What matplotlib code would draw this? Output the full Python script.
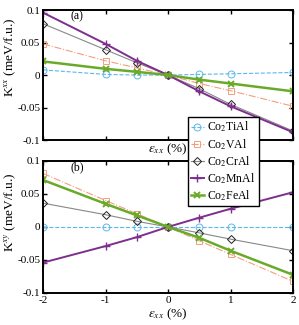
import numpy as np
import matplotlib
matplotlib.use('Agg')
import matplotlib.pyplot as plt

plt.rcParams['font.family'] = ['Liberation Serif', 'DejaVu Serif']
plt.rcParams['mathtext.fontset'] = 'stix'
plt.rcParams['axes.unicode_minus'] = False

# strain values (%)
strain = [-2, -1, -0.5, 0, 0.5, 1, 2]
names = ['Co$_2$TiAl', 'Co$_2$VAl', 'Co$_2$CrAl', 'Co$_2$MnAl', 'Co$_2$FeAl']

# (a) K^xx (meV/f.u.)
kxx_ti = [0.008, 0.001, 0.0, 0.0, 0.001, 0.002, 0.004]
kxx_v = [0.048, 0.022, 0.011, 0.0, -0.013, -0.024, -0.048]
kxx_cr = [0.079, 0.039, 0.019, 0.0, -0.021, -0.045, -0.086]
kxx_mn = [0.096, 0.048, 0.022, 0.0, -0.025, -0.048, -0.088]
kxx_fe = [0.021, 0.0096, 0.005, 0.0, -0.007, -0.013, -0.025]

# (b) K^xy (meV/f.u.)
kxy_ti = [0.0, 0.0, 0.0, 0.0, 0.0, 0.0, 0.0]
kxy_v = [0.081, 0.040, 0.020, 0.0, -0.021, -0.0415, -0.0825]
kxy_cr = [0.036, 0.0185, 0.0085, 0.0, -0.009, -0.0185, -0.036]
kxy_mn = [-0.054, -0.029, -0.0155, 0.0, 0.014, 0.0275, 0.0525]
kxy_fe = [0.071, 0.035, 0.0175, 0.0, -0.0165, -0.036, -0.0725]

styles = [
    dict(color='#5BB8EA', ls='--', lw=0.8, marker='o', ms=5, mfc='none', mew=0.7),
    dict(color='#F0A080', ls='-.', lw=0.8, marker='s', ms=4.5, mfc='none', mew=0.7),
    dict(color='#888888', ls='-', lw=0.8, marker='D', ms=4, mfc='none', mew=0.7, mec='#222222'),
    dict(color='#7E2F8E', ls='-', lw=1.4, marker='+', ms=6, mew=1.0),
    dict(color='#6AAA2A', ls='-', lw=1.8, marker='x', ms=4, mew=1.4),
]

fig = plt.figure(figsize=(2.99, 3.25), dpi=100)
ax_a = fig.add_axes([0.144, 0.569, 0.836, 0.400])
ax_b = fig.add_axes([0.144, 0.0985, 0.836, 0.4065])

lines = []
for ys, st, nm in zip([kxx_ti, kxx_v, kxx_cr, kxx_mn, kxx_fe], styles, names):
    l, = ax_a.plot(strain, ys, label=nm, **st)
    lines.append(l)
for ys, st in zip([kxy_ti, kxy_v, kxy_cr, kxy_mn, kxy_fe], styles):
    ax_b.plot(strain, ys, **st)

for ax, lab, ylab, ly in [(ax_a, '(a)', 'K$^{xx}$ (meV/f.u.)', 0.64),
                          (ax_b, '(b)', 'K$^{xy}$ (meV/f.u.)', 0.61)]:
    ax.set_xlim(-2, 2)
    ax.set_ylim(-0.1, 0.1)
    ax.set_xticks([-2, -1, 0, 1, 2])
    ax.set_yticks([-0.1, -0.05, 0, 0.05, 0.1])
    ax.set_yticklabels(['-0.1', '-0.05', '0', '0.05', '0.1'])
    ax.tick_params(direction='in', top=True, right=True, labelsize=8, length=3, width=1.0, pad=2)
    for sp in ax.spines.values():
        sp.set_linewidth(1.4)
    ax.set_ylabel(ylab, fontsize=9.5)
    ax.yaxis.set_label_coords(-0.10, ly)
    ax.text(0.11, 0.95, lab, transform=ax.transAxes, fontsize=8.5, va='center')
    ax.set_xlabel(r'$\epsilon_{xx}$ (%)', fontsize=9.5, labelpad=1)

ax_b.set_xticklabels(['-2', '-1', '0', '1', '2'])
ax_a.set_xticklabels([])
ax_a.xaxis.labelpad = -1

leg = fig.legend(handles=lines, loc='upper left', bbox_to_anchor=(0.628, 0.64),
                 fontsize=8.5, frameon=True, fancybox=False, framealpha=1,
                 edgecolor='black', handlelength=1.1, handletextpad=0.3,
                 borderpad=0.25, labelspacing=0.22, borderaxespad=0)
leg.get_frame().set_linewidth(1.0)

fig.savefig('out.png', dpi=100)
